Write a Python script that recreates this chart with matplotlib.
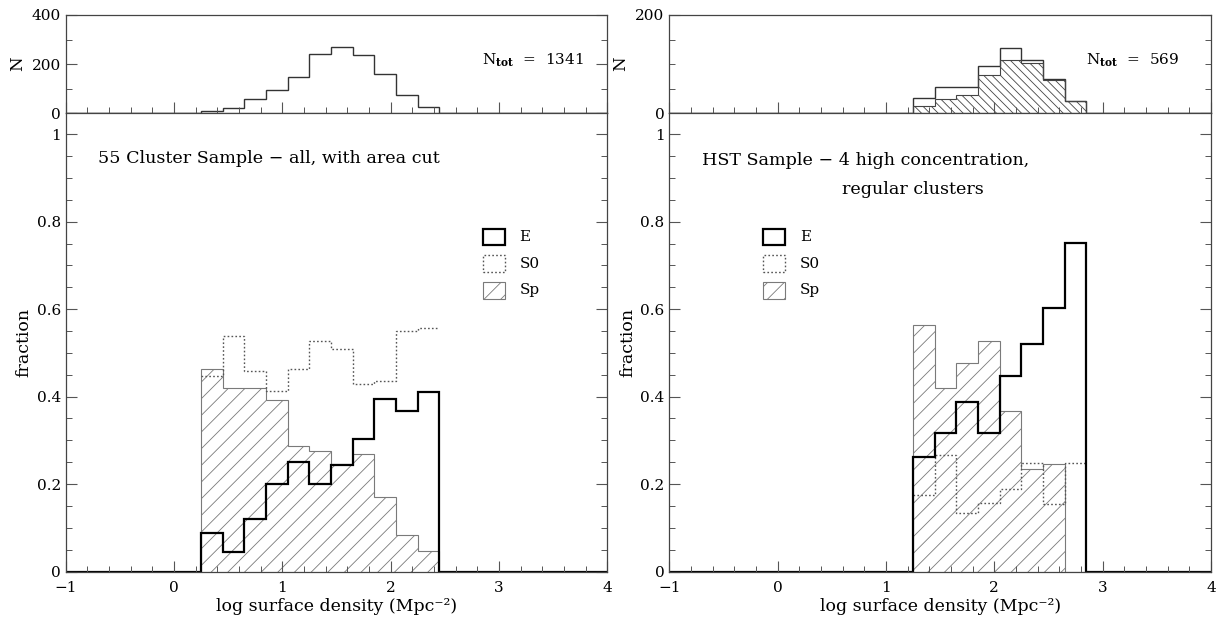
import numpy as np
import matplotlib
matplotlib.use("Agg")
import matplotlib.pyplot as plt
import matplotlib.patches as patches
from matplotlib.ticker import MultipleLocator, FuncFormatter

plt.rcParams["font.family"] = ["DejaVu Serif"]
plt.rcParams["mathtext.fontset"] = "dejavuserif"
plt.rcParams["font.size"] = 11
plt.rcParams["hatch.linewidth"] = 0.6

# ---- data ----
left_edges = [0.25, 0.45, 0.65, 0.85, 1.05, 1.25, 1.45, 1.65, 1.85, 2.05, 2.25, 2.45]
left_N = [9, 23, 57, 96, 146, 243, 271, 236, 161, 73, 26]
left_E = [0.089, 0.045, 0.120, 0.200, 0.250, 0.200, 0.243, 0.303, 0.394, 0.367, 0.410]
left_S0 = [0.447, 0.538, 0.459, 0.413, 0.464, 0.527, 0.508, 0.430, 0.436, 0.550, 0.558]
left_Sp = [0.464, 0.420, 0.420, 0.392, 0.288, 0.275, 0.246, 0.268, 0.170, 0.083, 0.047]

right_edges = [1.25, 1.45, 1.65, 1.85, 2.05, 2.25, 2.45, 2.65, 2.85]
right_N = [31, 53, 54, 97, 132, 109, 69, 24]
right_N_hatch = [15, 30, 37, 77, 108, 102, 68, 24]
right_E = [0.262, 0.317, 0.387, 0.316, 0.447, 0.520, 0.602, 0.752]
right_S0 = [0.175, 0.266, 0.134, 0.157, 0.188, 0.249, 0.154, 0.249]
right_Sp = [0.563, 0.420, 0.478, 0.527, 0.367, 0.234, 0.245, 0.0]

left_title = ["55 Cluster Sample \u2212 all, with area cut"]
right_title = ["HST Sample \u2212 4 high concentration,", "regular clusters"]
ntot = ["1341", "569"]
legend_names = ["E", "S0", "Sp"]
xlabel = "log surface density (Mpc\u207b\u00b2)"

XMIN, XMAX = -1, 4
GRAY = "#7a7a7a"


def style_axes(ax):
    ax.tick_params(which="both", direction="in", top=False, right=True,
                   labelsize=11, color="#555555")
    ax.tick_params(which="major", length=8, width=0.8)
    ax.tick_params(which="minor", length=4.5, width=0.7)
    ax.tick_params(axis="x", pad=7)
    for s in ax.spines.values():
        s.set_linewidth(0.9)
        s.set_color("#444444")


def pad(edges, vals):
    return [XMIN] + list(edges) + [XMAX], [0] + list(vals) + [0]


def draw_panel(fig, x0, edges, N, N_hatch, E, S0, Sp, nmax, nmajor, nminor,
               titles, title_pos, ntot_text, legend_x):
    W = 0.4447
    axh = fig.add_axes([x0, 0.8170, W, 0.1588])
    axm = fig.add_axes([x0, 0.0767, W, 0.7403])

    # top histogram of counts
    e, v = pad(edges, N)
    axh.stairs(v, e, color="#333333", lw=1.0)
    if N_hatch is not None:
        axh.stairs(N_hatch, edges, fill=True, facecolor="none",
                   edgecolor="#444444", hatch="\\\\\\\\", lw=0.8)
    axh.set_xlim(XMIN, XMAX)
    axh.set_ylim(0, nmax)
    axh.xaxis.set_major_locator(MultipleLocator(1))
    axh.xaxis.set_minor_locator(MultipleLocator(0.2))
    axh.yaxis.set_major_locator(MultipleLocator(nmajor))
    axh.yaxis.set_minor_locator(MultipleLocator(nminor))
    axh.set_xticklabels([])
    axh.set_ylabel("N", labelpad=4, fontsize=12)
    style_axes(axh)
    axh.text(0.769, 0.54, r"N$_{\mathbf{tot}}$  =  " + ntot_text,
             transform=axh.transAxes, ha="left", va="center", fontsize=11)

    # fractions
    axm.stairs(Sp, edges, fill=True, facecolor="none", edgecolor=GRAY,
               hatch="//", lw=0.8)
    axm.stairs(S0, edges, color="#555555", lw=1.0, ls=(0, (1.2, 1.6)),
               baseline=None)
    e, v = pad(edges, E)
    axm.stairs(v, e, color="black", lw=1.6)
    axm.set_xlim(XMIN, XMAX)
    axm.set_ylim(0, 1.048)
    axm.xaxis.set_major_locator(MultipleLocator(1))
    axm.xaxis.set_minor_locator(MultipleLocator(0.2))
    axm.yaxis.set_major_locator(MultipleLocator(0.2))
    axm.yaxis.set_minor_locator(MultipleLocator(0.05))
    axm.yaxis.set_major_formatter(FuncFormatter(lambda y, p: f"{y:g}"))
    axm.set_xlabel(xlabel, fontsize=12.5, labelpad=2)
    axm.set_ylabel("fraction", fontsize=12.5, labelpad=3)
    style_axes(axm)

    for t, (tx, ty) in zip(titles, title_pos):
        axm.text(tx, ty, t, transform=axm.transAxes, ha="left", va="center",
                 fontsize=12.6)

    # legend boxes
    ys = [0.730, 0.672, 0.614]
    bw, bh = 0.041, 0.037
    styles = [dict(edgecolor="black", lw=1.6, facecolor="none"),
              dict(edgecolor="#555555", lw=1.0, ls=(0, (1.2, 1.6)), facecolor="none"),
              dict(edgecolor=GRAY, lw=0.8, facecolor="none", hatch="//")]
    for name, y, st in zip(legend_names, ys, styles):
        axm.add_patch(patches.Rectangle((legend_x, y - bh / 2), bw, bh,
                                        transform=axm.transAxes, **st))
        axm.text(legend_x + bw + 0.027, y, name, transform=axm.transAxes,
                 ha="left", va="center", fontsize=11)
    return axh, axm


fig = plt.figure(figsize=(12.18, 6.19), dpi=100)

draw_panel(fig, 0.0539, left_edges, left_N, None, left_E, left_S0, left_Sp,
           400, 200, 100, left_title, [(0.060, 0.902)], ntot[0], 0.770)
draw_panel(fig, 0.5495, right_edges, right_N, right_N_hatch, right_E,
           right_S0, right_Sp, 200, 200, 50, right_title,
           [(0.061, 0.898), (0.318, 0.833)], ntot[1], 0.173)

fig.savefig("out.png", dpi=100)
